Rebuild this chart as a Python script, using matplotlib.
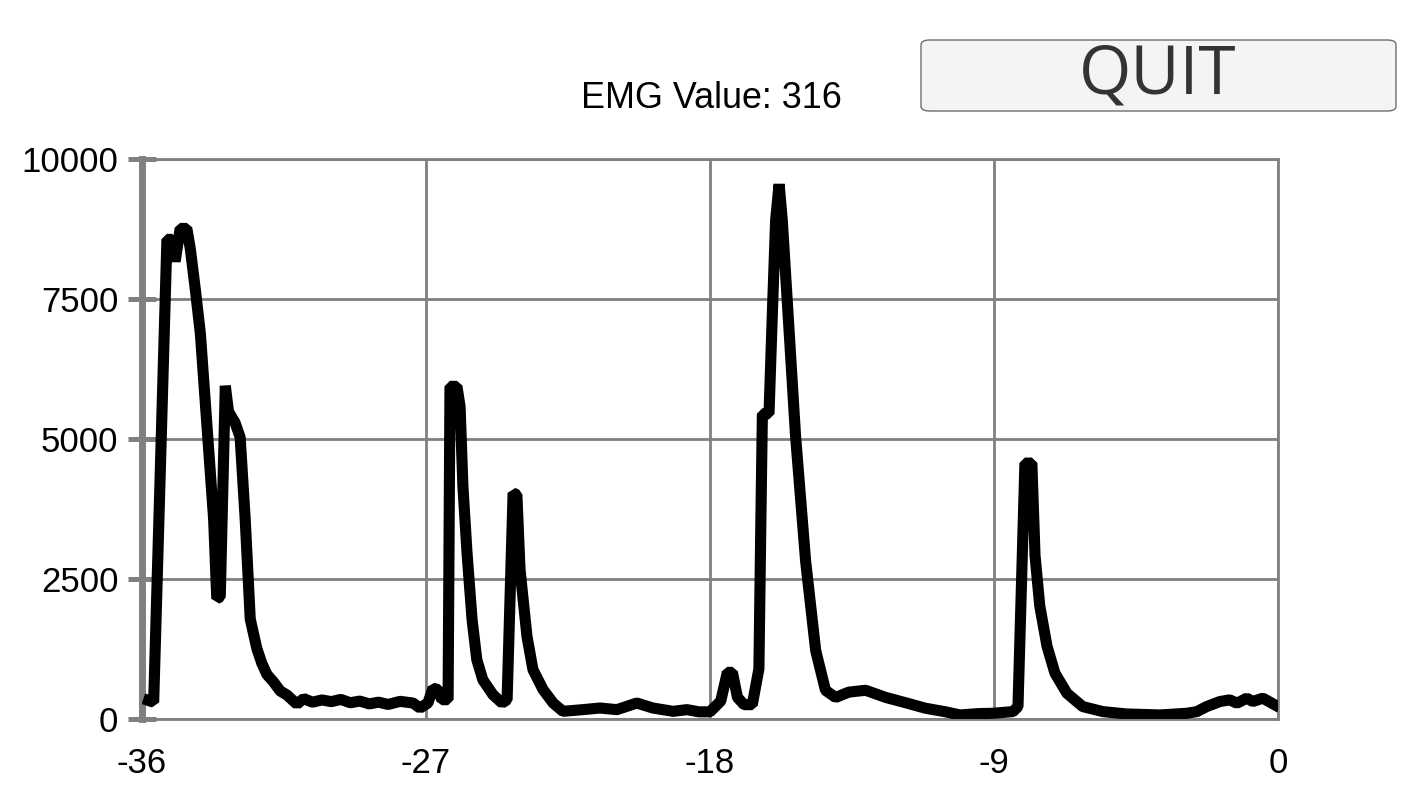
import matplotlib.pyplot as plt
from matplotlib.patches import FancyBboxPatch

# EMG trace, seconds before now vs raw value
time_s = [-35.79, -35.63, -35.21, -35.05, -34.95, -34.79, -34.58, -34.47, -34.31, -34.15,
          -33.94, -33.73, -33.63, -33.52, -33.36, -33.26, -33.05, -32.89, -32.73, -32.57,
          -32.36, -32.20, -32.04, -31.83, -31.62, -31.41, -31.09, -30.88, -30.6, -30.3,
          -30.0, -29.7, -29.4, -29.1, -28.8, -28.5, -28.2, -27.82, -27.41, -27.19,
          -26.94, -26.78, -26.62, -26.50, -26.30, -26.24, -26.02, -25.92, -25.83, -25.70,
          -25.54, -25.39, -25.20, -24.88, -24.59, -24.43, -24.24, -24.12, -24.02, -23.80,
          -23.61, -23.29, -22.97, -22.66, -22.03, -21.49, -20.95, -20.32, -19.81, -19.17,
          -18.73, -18.35, -18.0, -17.66, -17.45, -17.29, -17.13, -16.92, -16.66, -16.45,
          -16.39, -16.34, -16.13, -16.02, -15.92, -15.81, -15.71, -15.50, -15.29, -14.97,
          -14.65, -14.34, -14.02, -13.60, -13.07, -12.43, -11.80, -11.17, -10.53, -10.08,
          -9.5, -9.04, -8.40, -8.24, -8.02, -7.80, -7.70, -7.55, -7.32, -7.07,
          -6.69, -6.19, -5.55, -4.80, -3.74, -2.89, -2.57, -2.26, -1.84, -1.53,
          -1.30, -0.99, -0.80, -0.48, -0.10]
emg = [330, 300, 8565, 8565, 8170, 8760, 8760, 8400, 7670, 6880,
       5225, 3570, 2150, 2180, 5950, 5490, 5290, 5030, 3570, 1785,
       1257, 990, 795, 660, 500, 430, 265, 365, 300, 340,
       310, 350, 290, 320, 270, 300, 260, 315, 285, 196,
       285, 550, 525, 345, 345, 5940, 5940, 5580, 4155, 2965,
       1775, 1060, 700, 435, 285, 345, 4035, 4005, 2665, 1475,
       880, 525, 285, 137, 167, 196, 167, 285, 196, 137,
       167, 128, 128, 320, 833, 833, 385, 256, 256, 897,
       3460, 5450, 5450, 7310, 8910, 9550, 8910, 6990, 5065, 2820,
       1220, 513, 385, 480, 513, 385, 290, 192, 128, 72,
       96, 102, 132, 222, 4570, 4570, 2920, 2020, 1300, 820,
       460, 222, 132, 90, 72, 102, 132, 222, 312, 342,
       282, 372, 312, 372, 252]

x_ticks = [-36, -27, -18, -9, 0]
y_ticks = [0, 2500, 5000, 7500, 10000]
current_value = 316

grey = '#808080'
plt.rcParams['font.family'] = ['Liberation Sans', 'DejaVu Sans']

fig = plt.figure(figsize=(14.22, 8), dpi=100)
ax = fig.add_axes([142 / 1422, 1 - 719 / 800, (1278 - 142) / 1422, (719 - 159) / 800])

ax.plot(time_s, emg, color='black', linewidth=8, solid_joinstyle='bevel', zorder=3)

ax.set_xlim(-36, 0)
ax.set_ylim(0, 10000)
ax.set_xticks(x_ticks)
ax.set_yticks(y_ticks)
ax.set_xticklabels([str(t) for t in x_ticks])
ax.grid(True, color=grey, linewidth=2, zorder=0)
ax.set_axisbelow(True)

for side in ['top', 'right', 'bottom']:
    ax.spines[side].set_color(grey)
    ax.spines[side].set_linewidth(2)
ax.spines['left'].set_color(grey)
ax.spines['left'].set_linewidth(5)

ax.tick_params(axis='y', direction='inout', length=20, width=3.6, color=grey,
               labelsize=25, pad=7)
ax.tick_params(axis='x', length=0, labelsize=25, pad=20)

fig.text(711 / 1422, 1 - 99 / 800, f'EMG Value: {current_value}', fontsize=25.8,
         ha='center', va='center')

button = FancyBboxPatch((921 / 1422, 1 - 111 / 800), (1396 - 921) / 1422, 71 / 800,
                        boxstyle='round,pad=0,rounding_size=0.006',
                        transform=fig.transFigure, facecolor='#f4f4f4',
                        edgecolor='#6e6e6e', linewidth=1)
fig.patches.append(button)
fig.text(1158 / 1422, 1 - 76 / 800, 'QUIT', fontsize=48.5, color='#333333',
         family=['Open Sans', 'DejaVu Sans'], ha='center', va='center')

fig.savefig('out.png', dpi=100)
